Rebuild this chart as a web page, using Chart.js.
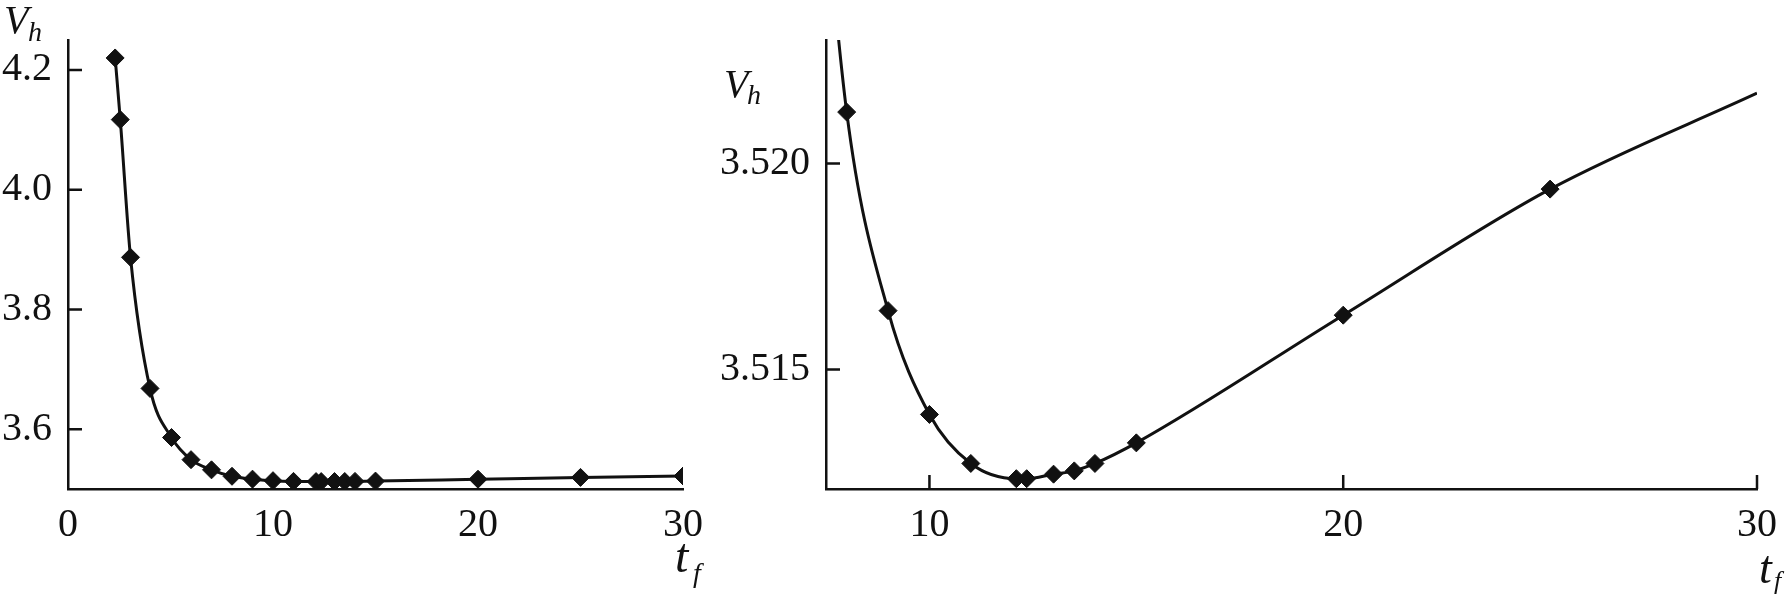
<!DOCTYPE html>
<html>
<head>
<meta charset="utf-8">
<script src="https://cdn.jsdelivr.net/npm/chart.js@4/dist/chart.umd.min.js"></script>
<style>
  body { margin: 0; background: #fff; }
  #wrap { position: relative; width: 1789px; height: 595px; overflow: hidden; background: #fff; }
  canvas { position: absolute; top: 0; }
  .lab { position: absolute; font-family: 'Liberation Serif', serif; font-style: italic; color: #111; line-height: 1; white-space: nowrap; }
</style>
</head>
<body>
<div id="wrap">
  <canvas id="left" width="720" height="595" style="left:0"></canvas>
  <canvas id="right" width="1069" height="595" style="left:720px"></canvas>

  <span class="lab" style="left:4px;top:0px;font-size:40px">V</span>
  <span class="lab" style="left:28px;top:18px;font-size:28px">h</span>
  <span class="lab" style="left:724px;top:64px;font-size:40px">V</span>
  <span class="lab" style="left:747px;top:81px;font-size:28px">h</span>

  <span class="lab" style="left:675px;top:532px;font-size:48px">t</span>
  <span class="lab" style="left:693px;top:559px;font-size:28px">f</span>
  <span class="lab" style="left:1759px;top:545px;font-size:46px">t</span>
  <span class="lab" style="left:1774px;top:568px;font-size:26px">f</span>
</div>
<script>
// tf values and Vh values
const tf = [2.3, 2.55, 3.05, 4, 5.05, 6, 7, 8, 9, 10, 11, 12.1, 12.35, 13, 13.5, 14, 15, 20, 25, 30];
const vh = [4.220, 4.117, 3.887, 3.668, 3.586, 3.549, 3.532, 3.52125, 3.51643, 3.51391, 3.51272,
            3.51235, 3.51235, 3.51246, 3.51254, 3.51272, 3.51322, 3.51632, 3.51938, 3.52171];

// right panel: zoom on tf >= 7
const zoomFrom = 7;

const leftXTicks = [0, 10, 20, 30];
const leftYTicks = [3.6, 3.8, 4.0, 4.2];
const rightXTicks = [10, 20, 30];
const rightYTicks = [3.515, 3.520];

const ink = '#111';
const tickFont = { family: "'Liberation Serif', serif", size: 40 };

const points = tf.map((x, i) => ({ x: x, y: vh[i] }));
const zoomPoints = points.filter(p => p.x >= zoomFrom);

// tick marks drawn inward from the axes
const innerTicks = {
    id: 'innerTicks',
    beforeDatasetsDraw(chart, args, opts) {
        const { ctx, chartArea: a, scales } = chart;
        ctx.save();
        ctx.strokeStyle = ink;
        ctx.lineWidth = 2.5;
        ctx.beginPath();
        if (opts.y) {
            scales.y.ticks.forEach(t => {
                const py = scales.y.getPixelForValue(t.value);
                ctx.moveTo(a.left, py);
                ctx.lineTo(a.left + opts.len, py);
            });
        }
        if (opts.x) {
            scales.x.ticks.forEach(t => {
                const px = scales.x.getPixelForValue(t.value);
                ctx.moveTo(px, a.bottom);
                ctx.lineTo(px, a.bottom - opts.len);
            });
        }
        ctx.stroke();
        ctx.restore();
    }
};

const makeChart = (id, data, o) => {
    return new Chart(document.getElementById(id), {
        type: 'line',
        data: {
            datasets: [{
                data: data,
                borderColor: ink,
                borderWidth: 3,
                backgroundColor: ink,
                pointStyle: 'rectRot',
                pointRadius: o.pointRadius,
                pointBorderWidth: 1,
                pointBorderColor: ink,
                pointBackgroundColor: ink,
                cubicInterpolationMode: 'monotone',
                fill: false
            }]
        },
        plugins: [innerTicks],
        options: {
            responsive: false,
            animation: false,
            events: [],
            layout: { padding: { top: 40, right: o.padRight, left: 0, bottom: 0 } },
            plugins: {
                legend: { display: false },
                tooltip: { enabled: false },
                innerTicks: { x: o.xTickMarks, y: true, len: 14 }
            },
            scales: {
                x: {
                    type: 'linear',
                    min: o.xMin,
                    max: 30,
                    afterBuildTicks: s => { s.ticks = o.xTicks.map(v => ({ value: v })); },
                    afterFit: s => { s.height = 106; },
                    grid: { display: false, drawTicks: false },
                    border: { display: true, color: ink, width: 2.5 },
                    ticks: { color: ink, font: tickFont, padding: 12, maxRotation: 0 }
                },
                y: {
                    min: o.yMin,
                    max: o.yMax,
                    afterBuildTicks: s => { s.ticks = o.yTicks.map(v => ({ value: v })); },
                    afterFit: s => { s.width = o.yWidth; },
                    grid: { display: false, drawTicks: false },
                    border: { display: true, color: ink, width: 2.5 },
                    ticks: { color: ink, font: tickFont, padding: 16, callback: v => v.toFixed(o.digits) }
                }
            }
        }
    });
};

makeChart('left', points, {
    xMin: 0, yMin: 3.5, yMax: 4.25,
    xTicks: leftXTicks, yTicks: leftYTicks,
    yWidth: 68, padRight: 37, digits: 1,
    xTickMarks: false, pointRadius: 9
});

makeChart('right', zoomPoints, {
    xMin: 7.5, yMin: 3.5121, yMax: 3.523,
    xTicks: rightXTicks, yTicks: rightYTicks,
    yWidth: 106, padRight: 22, digits: 3,
    xTickMarks: true,
    pointRadius: c => (c.raw && (c.raw.x < 7.5 || c.raw.x >= 30)) ? 0 : 9
});
</script>
</body>
</html>
